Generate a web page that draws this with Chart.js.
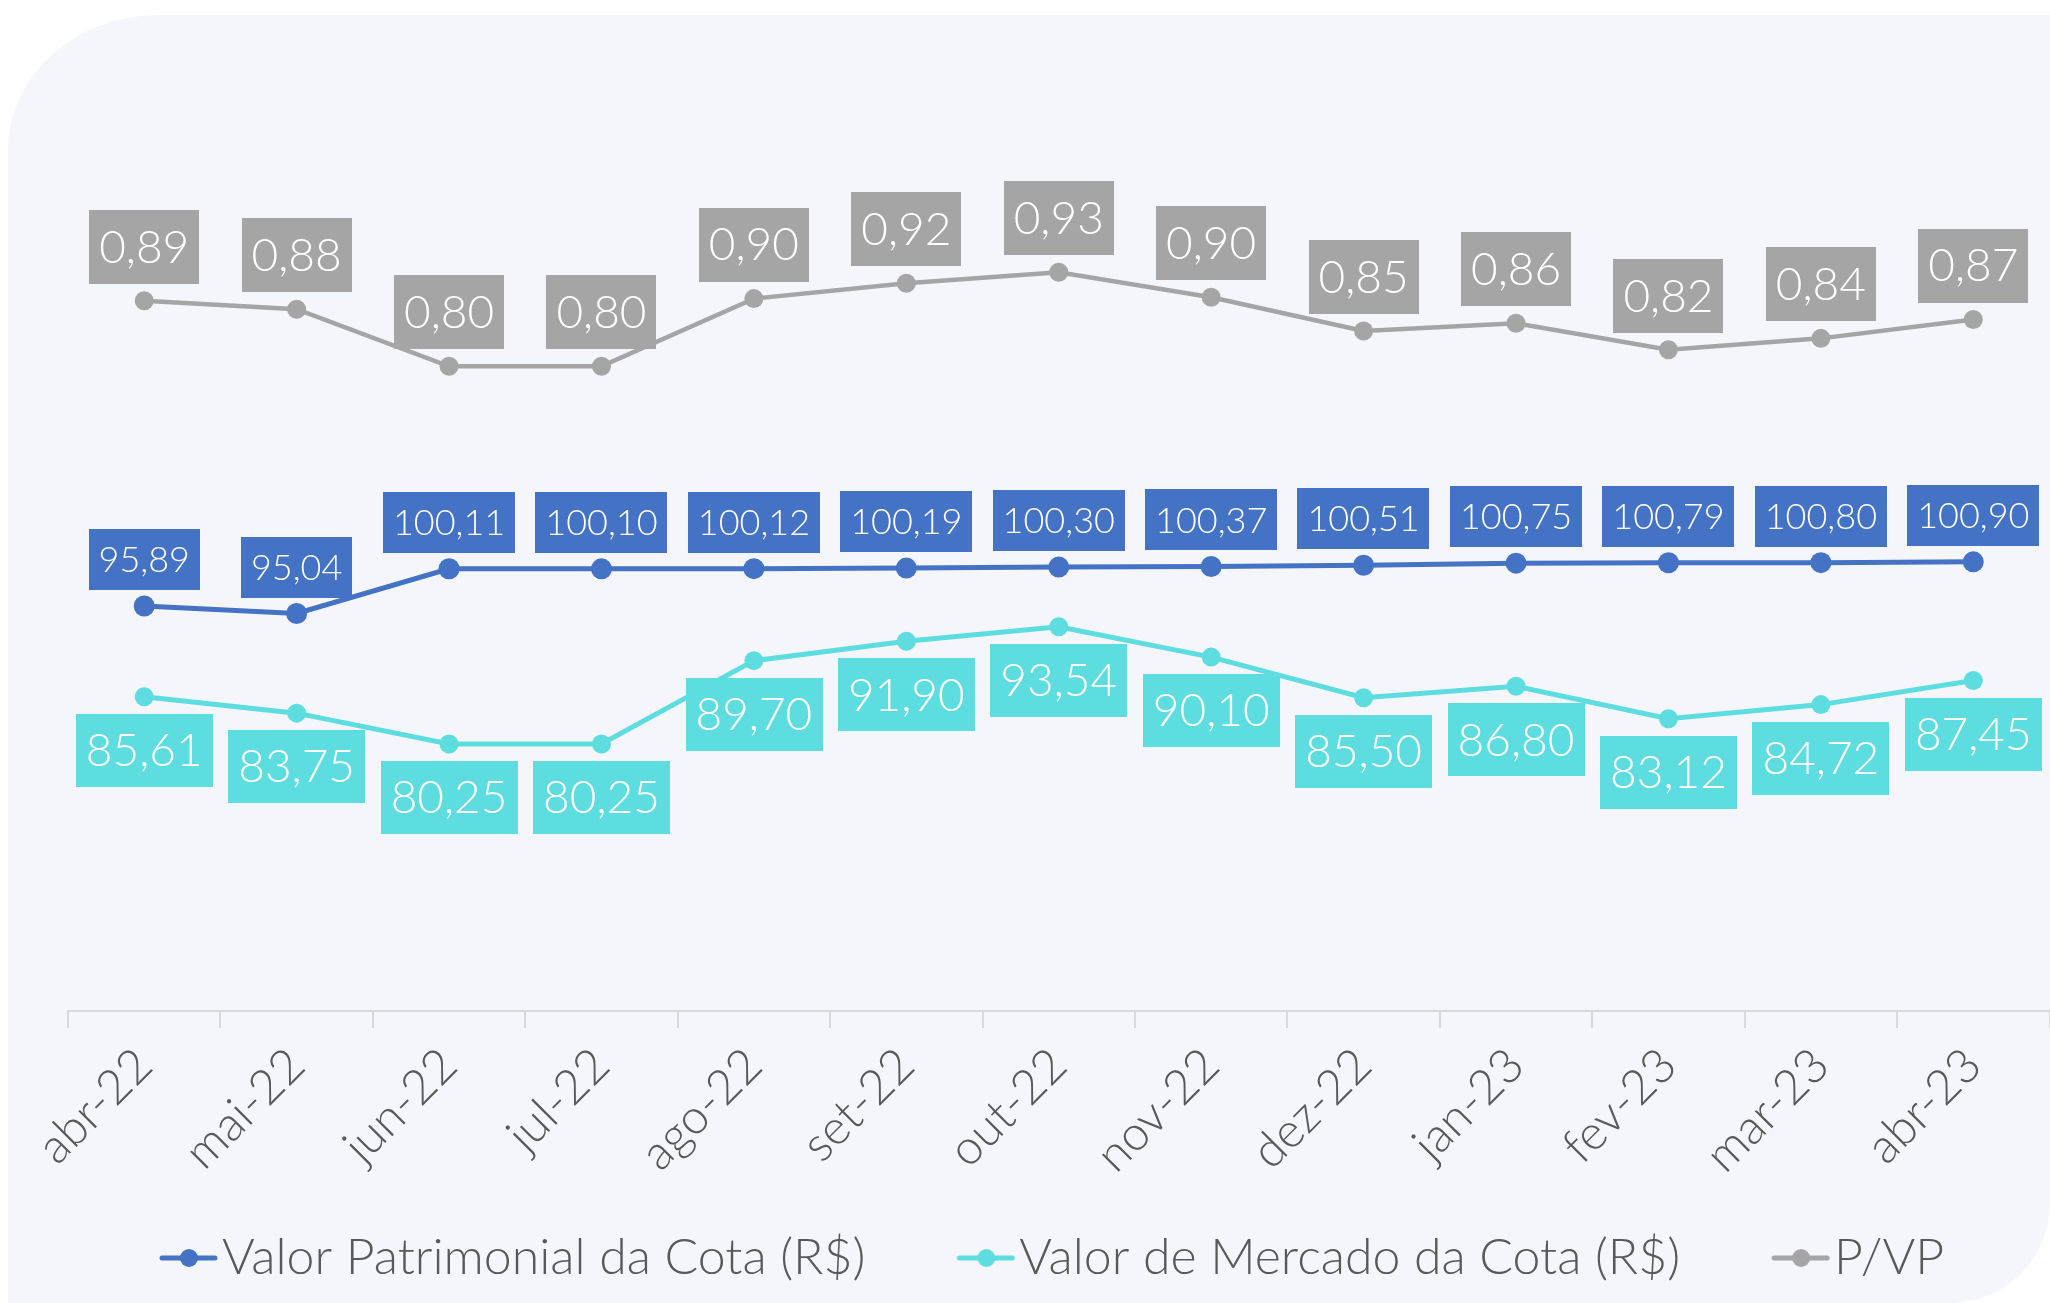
<!DOCTYPE html>
<html>
<head>
<meta charset="utf-8">
<script src="https://cdn.jsdelivr.net/npm/chart.js@4.4.1/dist/chart.umd.min.js"></script>
<style>
  html, body { margin: 0; padding: 0; background: #ffffff; overflow: hidden; width: 2050px; height: 1303px; }
  #panel {
    position: absolute; left: 8px; top: 15px; width: 2042px; height: 1288px;
    background: #F5F6FB;
    border-radius: 150px 0 100px 0 / 135px 0 100px 0;
  }
  #wrap { position: absolute; left: 0; top: 0; width: 2060px; height: 1303px; }
</style>
</head>
<body>
<div id="panel"></div>
<div id="wrap"><canvas id="lineChart" width="2060" height="1303"></canvas></div>
<script>
const meses = ['abr-22', 'mai-22', 'jun-22', 'jul-22', 'ago-22', 'set-22', 'out-22',
               'nov-22', 'dez-22', 'jan-23', 'fev-23', 'mar-23', 'abr-23'];
const valorPatrimonial = [95.89, 95.04, 100.11, 100.10, 100.12, 100.19, 100.30,
                          100.37, 100.51, 100.75, 100.79, 100.80, 100.90];
const valorMercado = [85.61, 83.75, 80.25, 80.25, 89.70, 91.90, 93.54,
                      90.10, 85.50, 86.80, 83.12, 84.72, 87.45];
const pvp = [0.8928, 0.8812, 0.8016, 0.8017, 0.8959, 0.9173, 0.9326,
             0.8977, 0.8507, 0.8616, 0.8247, 0.8405, 0.8667];

const FONT = 'Lato';
const WEIGHT = '300';
const legendFont = 50;
const boxW = 119;

// line + dot marker for the legend, shifted right inside a wide image
function marker(color) {
  const w = boxW + legendFont - 6, h = 22;
  const c = document.createElement('canvas');
  c.width = w; c.height = h;
  const g = c.getContext('2d');
  g.strokeStyle = color; g.lineWidth = 5; g.lineCap = 'round';
  g.beginPath(); g.moveTo(w - 57, h / 2); g.lineTo(w - 4, h / 2); g.stroke();
  g.fillStyle = color;
  g.beginPath(); g.arc(w - 30, h / 2, 9, 0, Math.PI * 2); g.fill();
  return c;
}

const fmt = v => v.toFixed(2).replace('.', ',');

// boxed value labels, drawn on top of the lines
const valueLabels = {
  id: 'valueLabels',
  afterDatasetsDraw(chart) {
    const ctx = chart.ctx;
    chart.data.datasets.forEach((ds, i) => {
      const st = ds.tag;
      const meta = chart.getDatasetMeta(i);
      ctx.save();
      ctx.font = `${WEIGHT} ${st.size}px ${FONT}`;
      ctx.textAlign = 'center';
      ctx.textBaseline = 'middle';
      meta.data.forEach((pt, j) => {
        const txt = fmt(ds.data[j]);
        const w = ctx.measureText(txt).width + 2 * st.padX;
        const h = st.size + 2 * st.padY;
        const top = st.above ? pt.y - st.gap - h : pt.y + st.gap;
        ctx.fillStyle = ds.borderColor;
        ctx.fillRect(Math.round(pt.x - w / 2), Math.round(top), Math.round(w), Math.round(h));
        ctx.fillStyle = '#ffffff';
        ctx.fillText(txt, pt.x, top + h / 2 + 1);
      });
      ctx.restore();
    });
  }
};

let ctx = document.getElementById('lineChart').getContext('2d');
let myLineChart = new Chart(ctx, {
  type: 'line',
  data: {
    labels: meses,
    datasets: [
      {
        label: 'Valor Patrimonial da Cota (R$)',
        data: valorPatrimonial,
        yAxisID: 'y',
        borderColor: '#4472C4',
        backgroundColor: '#4472C4',
        borderWidth: 5,
        pointRadius: 10.5,
        pointBorderWidth: 0,
        tag: { above: true, size: 36, padX: 10, padY: 12.5, gap: 16 }
      },
      {
        label: 'Valor de Mercado da Cota (R$)',
        data: valorMercado,
        yAxisID: 'y',
        borderColor: '#5EDDE0',
        backgroundColor: '#5EDDE0',
        borderWidth: 5,
        pointRadius: 9.5,
        pointBorderWidth: 0,
        tag: { above: false, size: 46, padX: 10, padY: 13.5, gap: 17 }
      },
      {
        label: 'P/VP',
        data: pvp,
        yAxisID: 'y2',
        borderColor: '#A5A5A5',
        backgroundColor: '#A5A5A5',
        borderWidth: 4.5,
        pointRadius: 9.5,
        pointBorderWidth: 0,
        tag: { above: true, size: 46, padX: 10, padY: 14, gap: 17 }
      }
    ]
  },
  options: {
    responsive: false,
    animation: false,
    devicePixelRatio: 1,
    layout: { padding: { left: 68, right: 8, top: 128.5, bottom: 10 } },
    scales: {
      x: {
        offset: true,
        grid: { offset: true, drawOnChartArea: false, drawTicks: true, tickLength: 17, color: '#D9D9D9', lineWidth: 2 },
        border: { display: true, color: '#D9D9D9', width: 2 },
        ticks: { autoSkip: false, minRotation: 45, maxRotation: 45, padding: 9, color: '#595959',
                 font: { family: FONT, size: 48, weight: WEIGHT } },
        afterFit(scale) { scale.height = 212; }
      },
      y: { display: false, min: 50, max: 150 },
      y2: { display: false, min: -0.097, max: 1.133 }
    },
    plugins: {
      tooltip: { enabled: false },
      legend: {
        position: 'bottom',
        align: 'start',
        labels: {
          usePointStyle: true,
          pointStyleWidth: boxW,
          padding: 10,
          color: '#595959',
          font: { family: FONT, size: legendFont, weight: WEIGHT },
          generateLabels: chart => chart.data.datasets.map((ds, i) => ({
            text: ds.label,
            pointStyle: marker(ds.borderColor),
            fillStyle: ds.borderColor,
            strokeStyle: ds.borderColor,
            lineWidth: 0,
            hidden: false,
            datasetIndex: i,
            fontColor: '#595959'
          }))
        }
      }
    }
  },
  plugins: [valueLabels]
});
</script>
</body>
</html>
